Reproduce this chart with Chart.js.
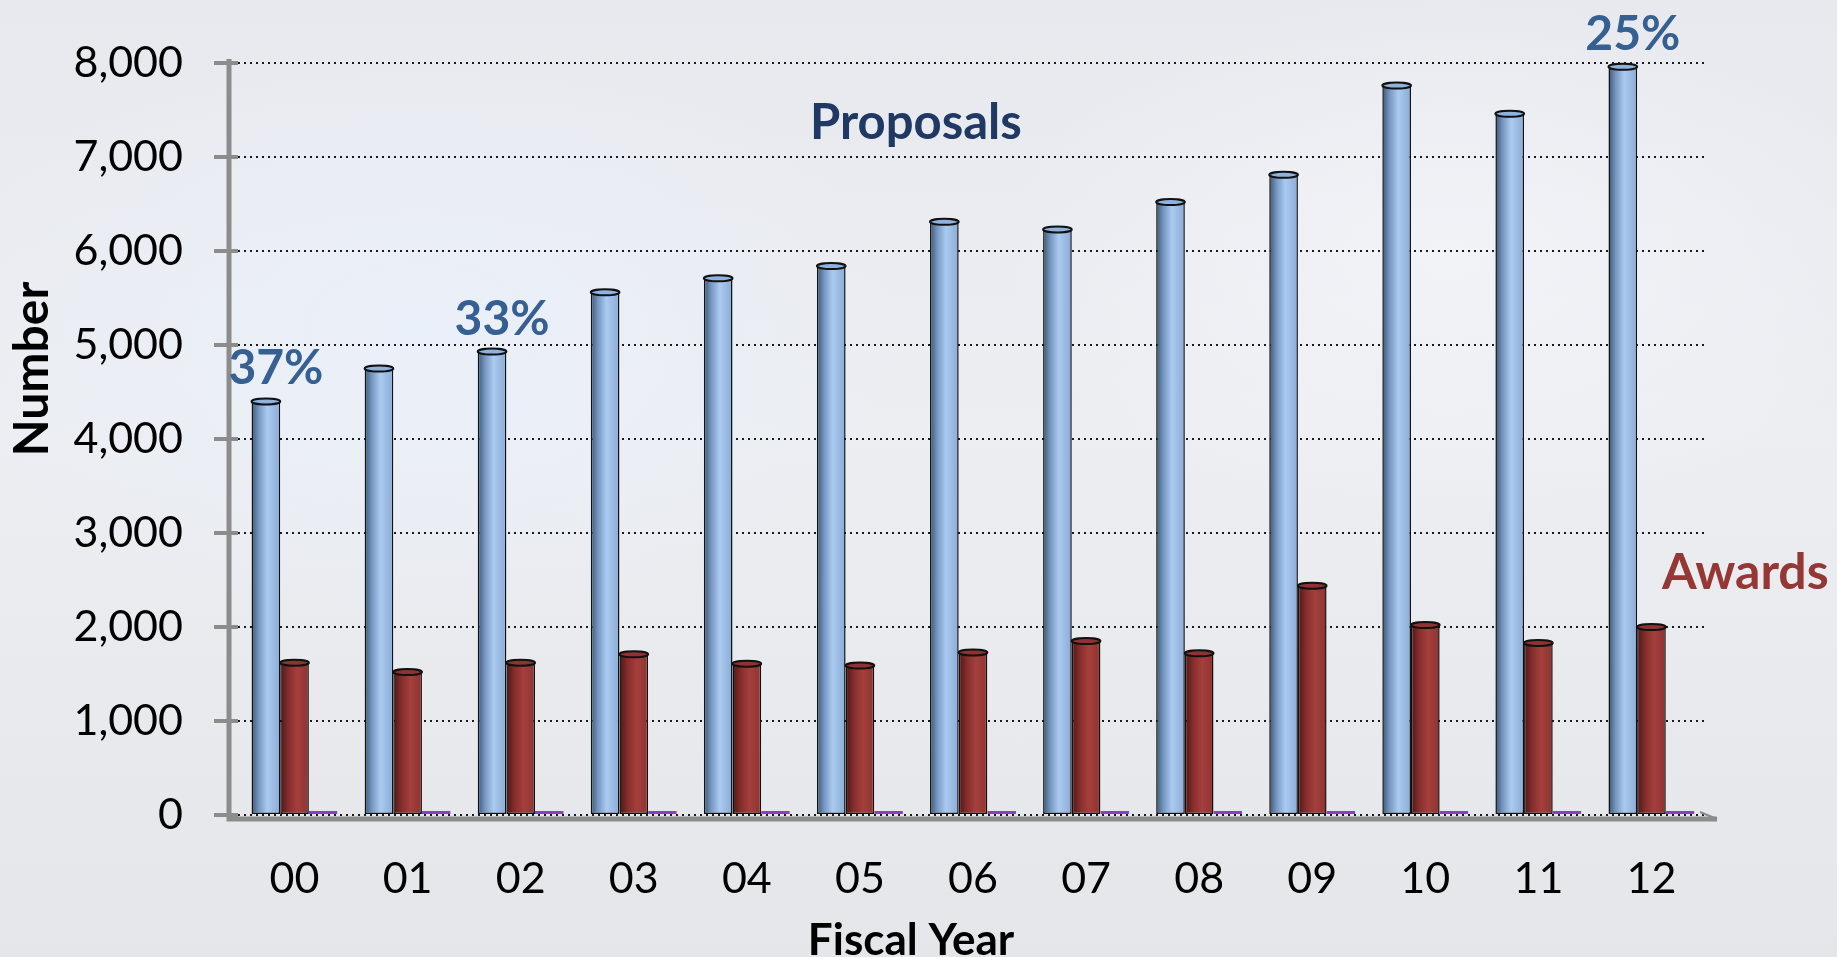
<!DOCTYPE html>
<html>
<head>
<meta charset="utf-8">
<title>Proposals and Awards by Fiscal Year</title>
<script src="https://cdn.jsdelivr.net/npm/chart.js@4.4.1/dist/chart.umd.min.js"></script>
<style>
  html, body { margin: 0; padding: 0; }
  body {
    width: 1837px;
    height: 957px;
    overflow: hidden;
    background:
      radial-gradient(ellipse 700px 420px at 420px 330px, rgba(234, 240, 250, 0.9), rgba(234, 240, 250, 0) 70%),
      radial-gradient(ellipse 650px 380px at 1450px 260px, rgba(244, 245, 249, 0.8), rgba(244, 245, 249, 0) 70%),
      linear-gradient(180deg, #e8e9ee 0%, #eceef2 45%, #e5e6e9 100%);
  }
  canvas { display: block; }
</style>
</head>
<body>
<canvas id="fundingChart" width="1837" height="957"></canvas>
<script>
// Fiscal years (2000 - 2012)
const years = ["00", "01", "02", "03", "04", "05", "06", "07", "08", "09", "10", "11", "12"];
const proposals = [4400, 4750, 4930, 5560, 5710, 5840, 6310, 6230, 6520, 6810, 7760, 7460, 7960];
const awards = [1620, 1520, 1620, 1710, 1610, 1590, 1730, 1850, 1720, 2440, 2020, 1830, 2000];
const series3 = [0, 0, 0, 0, 0, 0, 0, 0, 0, 0, 0, 0, 0];
// years that get a success rate label over the proposals bar
const rateYears = ["00", "02", "12"];

const FONT = "Lato";
const AXIS_GREY = "#8c8c8c";

// horizontal shading so the bars look like cylinders
const blueShade = [[0, "#3d5775"], [0.25, "#7596c0"], [0.55, "#abcaf0"], [1, "#8aabd6"]];
const redShade = [[0, "#4e1616"], [0.3, "#872f2d"], [0.6, "#a43f3c"], [1, "#8e3431"]];

const cylinders = {
    id: "cylinders",
    afterDatasetsUpdate(chart) {
        const ctx = chart.ctx;
        chart.data.datasets.forEach((ds, i) => {
            if (!ds.shade) return;
            chart.getDatasetMeta(i).data.forEach(bar => {
                const g = ctx.createLinearGradient(bar.x - bar.width / 2, 0, bar.x + bar.width / 2, 0);
                ds.shade.forEach(s => g.addColorStop(s[0], s[1]));
                bar.options = Object.assign({}, bar.options, { backgroundColor: g });
            });
        });
    },
    afterDatasetsDraw(chart) {
        const ctx = chart.ctx;
        chart.data.datasets.forEach((ds, i) => {
            if (!ds.shade) return;
            chart.getDatasetMeta(i).data.forEach(bar => {
                // top rim of the cylinder
                ctx.save();
                ctx.beginPath();
                ctx.ellipse(bar.x, bar.y, bar.width / 2, 3, 0, 0, Math.PI * 2);
                ctx.fillStyle = ds.capColor;
                ctx.fill();
                ctx.lineWidth = 2;
                ctx.strokeStyle = "#111";
                ctx.stroke();
                ctx.restore();
            });
        });
    }
};

// grey wall edge and floor, set a little out from the plot area
const axisFrame = {
    id: "axisFrame",
    beforeDatasetsDraw(chart) {
        const { left, right, top, bottom } = chart.chartArea;
        const ctx = chart.ctx;
        ctx.save();
        ctx.strokeStyle = AXIS_GREY;
        ctx.lineWidth = 5;
        ctx.beginPath();
        ctx.moveTo(left - 9, top - 4);
        ctx.lineTo(left - 9, bottom + 4);
        ctx.lineTo(right + 9, bottom + 4);
        ctx.stroke();
        // floor edge running back on the right
        ctx.lineWidth = 2;
        ctx.beginPath();
        ctx.moveTo(right + 9, bottom + 4);
        ctx.lineTo(right - 8, bottom - 3);
        ctx.stroke();
        ctx.restore();
    }
};

// free text: axis titles, series names and success rates
const annotations = {
    id: "annotations",
    afterDraw(chart) {
        const ctx = chart.ctx;
        ctx.save();
        ctx.textAlign = "center";
        ctx.textBaseline = "alphabetic";

        ctx.fillStyle = "#000";
        ctx.font = "bold 44px " + FONT;
        ctx.fillText("Fiscal Year", 911, 955);

        ctx.save();
        ctx.translate(33, 369);
        ctx.rotate(-Math.PI / 2);
        ctx.textBaseline = "middle";
        ctx.font = "bold 48px " + FONT;
        ctx.fillText("Number", 0, 0);
        ctx.restore();

        ctx.textAlign = "left";
        ctx.fillStyle = "#1f3864";
        ctx.font = "bold 49px " + FONT;
        ctx.fillText("Proposals", 810, 139);

        ctx.fillStyle = "#953735";
        ctx.font = "bold 50px " + FONT;
        ctx.fillText("Awards", 1662, 589);

        // award rate = awards / proposals
        const meta = chart.getDatasetMeta(0);
        ctx.textAlign = "center";
        ctx.fillStyle = "#376092";
        ctx.font = "bold 48px " + FONT;
        rateYears.forEach(yr => {
            const i = years.indexOf(yr);
            const bar = meta.data[i];
            const rate = Math.round(awards[i] / proposals[i] * 100);
            ctx.fillText(rate + "%", bar.x + 10, bar.y - 17);
        });
        ctx.restore();
    }
};

const ctx = document.getElementById("fundingChart").getContext("2d");

new Chart(ctx, {
    type: "bar",
    data: {
        labels: years,
        datasets: [
            {
                label: "Proposals",
                data: proposals,
                shade: blueShade,
                capColor: "#8fb2de",
                backgroundColor: () => "#9dbde6",
                borderColor: "#111",
                borderWidth: 1.5,
                borderSkipped: false
            },
            {
                label: "Awards",
                data: awards,
                shade: redShade,
                capColor: "#8e3331",
                backgroundColor: () => "#a03c3a",
                borderColor: "#111",
                borderWidth: 1.5,
                borderSkipped: false
            },
            {
                label: "Series 3",
                data: series3,
                backgroundColor: "#8c9a48",
                borderColor: "#8a3fc6",
                borderWidth: 1.5,
                borderSkipped: false,
                minBarLength: 4
            }
        ]
    },
    options: {
        responsive: false,
        animation: false,
        categoryPercentage: 0.76,
        barPercentage: 1,
        layout: {
            padding: { top: 63, right: 129, bottom: 0, left: 0 }
        },
        plugins: {
            legend: { display: false },
            tooltip: { enabled: false }
        },
        scales: {
            x: {
                offset: true,
                grid: { display: false, drawTicks: false },
                border: { display: false },
                ticks: {
                    padding: 38,
                    color: "#000",
                    font: { family: FONT, size: 43 }
                },
                afterFit(scale) { scale.height = 142; }
            },
            y: {
                min: 0,
                max: 8000,
                ticks: {
                    stepSize: 1000,
                    padding: 31,
                    color: "#000",
                    font: { family: FONT, size: 43 },
                    callback: v => v.toLocaleString("en-US")
                },
                grid: {
                    color: "#1a1a1a",
                    lineWidth: 2,
                    tickLength: 24,
                    tickColor: AXIS_GREY,
                    tickWidth: 4
                },
                border: { display: false, dash: [2, 4] },
                afterFit(scale) { scale.width = 238; }
            }
        }
    },
    plugins: [axisFrame, cylinders, annotations]
});
</script>
</body>
</html>
